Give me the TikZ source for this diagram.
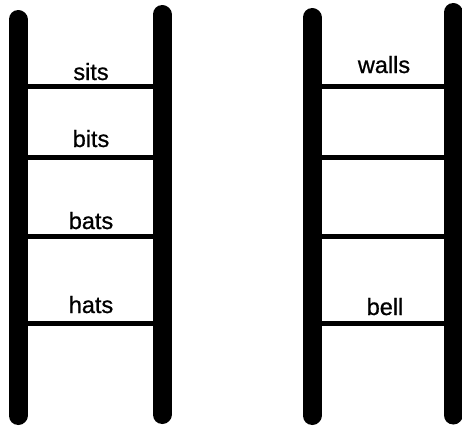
\documentclass[tikz,border=0pt]{standalone}
\usepackage{fontspec}
\setmainfont{Liberation Sans}
\newfontfamily\wordfont{Liberation Sans}[FakeBold=0.8]
\usepackage{tikz}

\begin{document}
\begin{tikzpicture}[x=1pt, y=-1pt]
        \tikzset{rail/.style={line width=19pt, line cap=round},
                 rung/.style={line width=5pt},
                 word/.style={anchor=base, inner sep=0pt, font=\wordfont\fontsize{23.5}{23.5}\selectfont}}
        \useasboundingbox (0,0) rectangle (462,426);

        % rail ends of the two ladders
        \coordinate (a_top) at (18,19.5);   \coordinate (a_bot) at (18,415.5);
        \coordinate (b_top) at (162,14.5);  \coordinate (b_bot) at (162,414.5);
        \coordinate (c_top) at (312,17.5);  \coordinate (c_bot) at (312,415.5);
        \coordinate (d_top) at (453,12.5);  \coordinate (d_bot) at (453,415);

        % rungs first, rails on top
        \foreach \y in {86,157,236,323} {
            \draw[rung] (18,\y) -- (162,\y);
            \draw[rung] (312,\y) -- (453,\y);
        }
        \draw[rail] (a_top) -- (a_bot);
        \draw[rail] (b_top) -- (b_bot);
        \draw[rail] (c_top) -- (c_bot);
        \draw[rail] (d_top) -- (d_bot);

        % words on the rungs
        \node[word] (sits) at (91,80) {sits};
        \node[word] (bits) at (91,147) {bits};
        \node[word] (bats) at (91,229) {bats};
        \node[word] (hats) at (91,313) {hats};
        \node[word] (walls) at (384,73) {walls};
        \node[word] (bell) at (385,315) {bell};
    \end{tikzpicture}
\end{document}
